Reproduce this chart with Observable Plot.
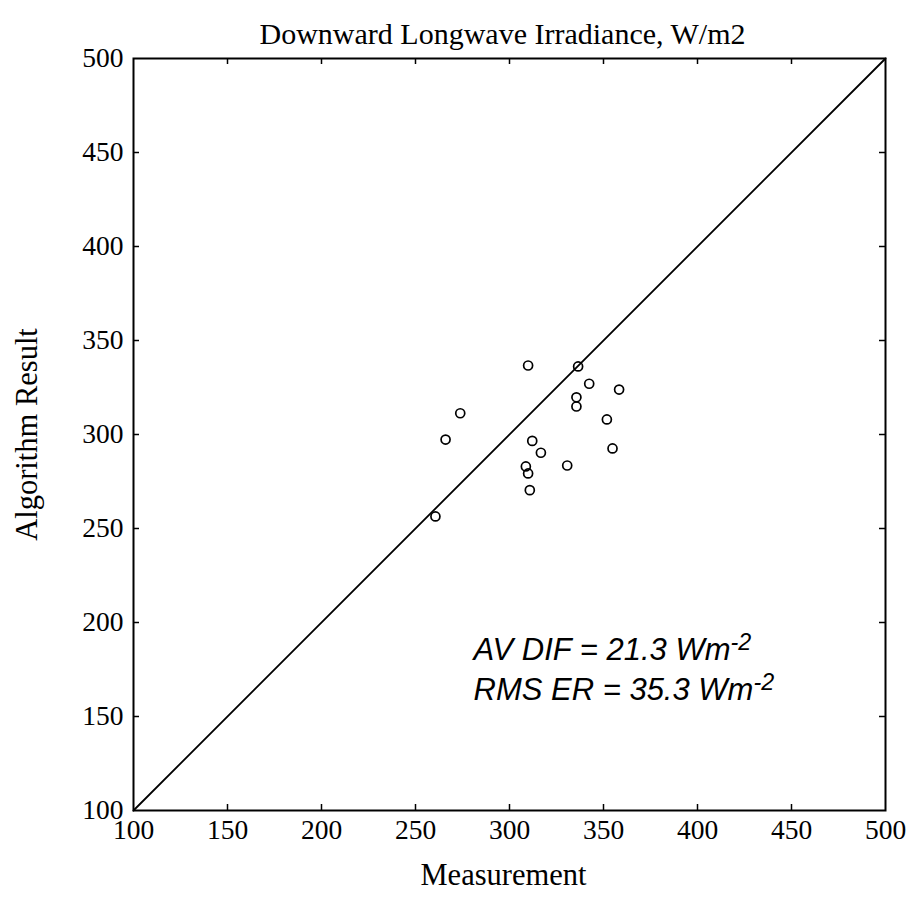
<!DOCTYPE html>
<html><head><meta charset="utf-8">
<script src="https://cdn.jsdelivr.net/npm/d3@7"></script>
<script src="https://cdn.jsdelivr.net/npm/@observablehq/plot@0.6"></script>
<style>body{margin:0;background:#fff} svg{overflow:visible}</style>
</head><body><div id="chart"></div>
<script>
const measurement = [309.9, 336.5, 342.4, 358.3, 335.6, 335.6, 273.8, 351.8, 266.0, 312.1, 316.7, 354.8, 308.7, 330.7, 309.9, 310.8, 260.6];
const algorithm   = [336.7, 336.2, 327.0, 323.9, 319.8, 314.9, 311.3, 308.0, 297.3, 296.6, 290.3, 292.6, 283.0, 283.5, 279.3, 270.4, 256.4];
const xTicks = [100, 150, 200, 250, 300, 350, 400, 450, 500];
const yTicks = [100, 150, 200, 250, 300, 350, 400, 450, 500];
const innerTicks = [150, 200, 250, 300, 350, 400, 450];
const diagonal = [100, 500];
const title = "Downward Longwave Irradiance, W/m2";
const xLabel = "Measurement";
const yLabel = "Algorithm Result";
const statLines = ["AV DIF = 21.3 Wm", "RMS ER = 35.3 Wm"];
const statSup = "-2";

const points = measurement.map((m, i) => ({m, a: algorithm[i]}));
const W = 912, H = 905, mt = 58, mb = 95, ml = 133, mr = 27;
const fw = W - ml - mr, fh = H - mt - mb;
const serif = "Liberation Serif, Times New Roman, serif";
const sans = "Liberation Sans, Arial, sans-serif";

const chart = Plot.plot({
  width: W, height: H,
  marginTop: mt, marginBottom: mb, marginLeft: ml, marginRight: mr,
  style: {fontFamily: serif, fontSize: "27px", background: "white", overflow: "visible", color: "black"},
  x: {domain: [100, 500], label: null},
  y: {domain: [100, 500], label: null},
  marks: [
    Plot.frame({stroke: "black", strokeWidth: 2}),
    Plot.tickX(innerTicks, {x: d => d, insetTop: fh - 6, stroke: "black", strokeWidth: 1.5}),
    Plot.tickX(innerTicks, {x: d => d, insetBottom: fh - 6, stroke: "black", strokeWidth: 1.5}),
    Plot.tickY(innerTicks, {y: d => d, insetRight: fw - 6, stroke: "black", strokeWidth: 1.5}),
    Plot.tickY(innerTicks, {y: d => d, insetLeft: fw - 6, stroke: "black", strokeWidth: 1.5}),
    Plot.axisX(xTicks, {tickSize: 0, tickPadding: 9, fontSize: 27.5, fontFamily: serif, label: null}),
    Plot.axisY(yTicks, {tickSize: 0, tickPadding: 10, fontSize: 27.5, fontFamily: serif, label: null}),
    Plot.line(diagonal, {x: d => d, y: d => d, stroke: "black", strokeWidth: 1.8}),
    Plot.dot(points, {x: "m", y: "a", r: 4.5, stroke: "black", strokeWidth: 1.7, fill: "none"}),
    Plot.text([title], {frameAnchor: "top", lineAnchor: "bottom", dy: -15, dx: -7, fontSize: 30, fontFamily: serif}),
    Plot.text([xLabel], {frameAnchor: "bottom", lineAnchor: "bottom", dy: 74, dx: -6, fontSize: 30.5, fontFamily: serif}),
    Plot.text([yLabel], {frameAnchor: "left", textAnchor: "middle", lineAnchor: "middle", rotate: -90, dx: -106, fontSize: 30.5, fontFamily: serif}),
    Plot.text([statLines[0]], {frameAnchor: "bottom-left", textAnchor: "start", lineAnchor: "bottom", dx: 340, dy: -151, fontSize: 31, fontFamily: sans, fontStyle: "italic"}),
    Plot.text([statLines[1]], {frameAnchor: "bottom-left", textAnchor: "start", lineAnchor: "bottom", dx: 340, dy: -111, fontSize: 31, fontFamily: sans, fontStyle: "italic"})
  ]
});
document.getElementById("chart").appendChild(chart);
d3.select(chart).selectAll("text").filter(function() {
  return statLines.includes(this.textContent);
}).each(function() {
  d3.select(this).append("tspan").attr("dy", "-0.42em").attr("font-size", "0.75em").text(statSup);
});
</script></body></html>
